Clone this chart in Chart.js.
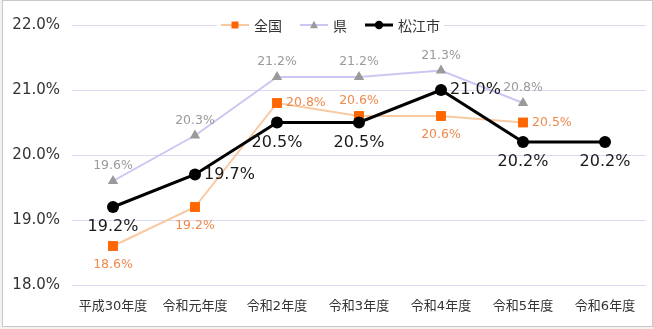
<!DOCTYPE html>
<html>
<head>
<meta charset="utf-8">
<script src="https://cdn.jsdelivr.net/npm/chart.js@4/dist/chart.umd.min.js"></script>
<style>
  html, body { margin: 0; padding: 0; width: 653px; height: 329px; overflow: hidden; background: #f2f3ee; }
  #frame { position: absolute; left: 2px; top: 0; width: 649px; height: 325px; border: 1px solid #c9c9c9; background: #fff; }
  #wrap { position: absolute; left: 0; top: 0; width: 653px; height: 329px; }
</style>
</head>
<body>
<div id="frame"></div>
<div id="wrap"><canvas id="c" width="653" height="329"></canvas></div>
<script>
// Fiscal years on the horizontal axis
const categories = ['平成30年度', '令和元年度', '令和2年度', '令和3年度', '令和4年度', '令和5年度', '令和6年度'];

// Rates (%) per series
const national   = [18.6, 19.2, 20.8, 20.6, 20.6, 20.5, null];
const prefecture = [19.6, 20.3, 21.2, 21.2, 21.3, 20.8, null];
const matsue     = [19.2, 19.7, 20.5, 20.5, 21.0, 20.2, 20.2];

// Axis range and tick step
const yMin = 18;
const yMax = 22;
const yStep = 1;

const seriesNames = ['全国', '県', '松江市'];

// Where each value label sits relative to its point
const nationalLabelPos   = ['below', 'below', 'right', 'above', 'below', 'right', null];
const prefectureLabelPos = ['above', 'above', 'above', 'above', 'above', 'above', null];
const matsueLabelPos     = ['below', 'right', 'below', 'below', 'right', 'below', 'below'];

const FONT = '"DejaVu Sans", "Noto Sans CJK JP", sans-serif';
const CJK_FONT = '"Noto Sans CJK JP", sans-serif';

const styles = [
  { line: '#f9c9a2', marker: '#ff6600', shape: 'rect',     labelColor: '#ef8a4c', labelSize: 12.5, labelPos: nationalLabelPos },
  { line: '#cac7f3', marker: '#9a9a9a', shape: 'triangle', labelColor: '#9a9a9a', labelSize: 12.5, labelPos: prefectureLabelPos },
  { line: '#000000', marker: '#000000', shape: 'circle',   labelColor: '#1a1a1a', labelSize: 16,   labelPos: matsueLabelPos }
];

// Value labels next to each point
const valueLabels = {
  id: 'valueLabels',
  afterDatasetsDraw(chart) {
    const ctx = chart.ctx;
    chart.data.datasets.forEach((ds, di) => {
      const st = styles[di];
      const meta = chart.getDatasetMeta(di);
      ctx.save();
      ctx.font = st.labelSize + 'px ' + FONT;
      ctx.fillStyle = st.labelColor;
      meta.data.forEach((pt, i) => {
        const v = ds.data[i];
        const pos = st.labelPos[i];
        if (v === null || v === undefined || !pos) return;
        const text = v.toFixed(1) + '%';
        let x = pt.x, y = pt.y;
        if (pos === 'above') {
          ctx.textAlign = 'center'; ctx.textBaseline = 'middle';
          y -= 15;
        } else if (pos === 'below') {
          ctx.textAlign = 'center'; ctx.textBaseline = 'middle';
          y += st.labelSize > 14 ? 20 : 19;
        } else {
          ctx.textAlign = 'left'; ctx.textBaseline = 'middle';
          x += 9;
        }
        ctx.fillText(text, x, y);
      });
      ctx.restore();
    });
  }
};

function drawMarker(ctx, shape, x, y, r, color) {
  ctx.fillStyle = color;
  ctx.beginPath();
  if (shape === 'rect') {
    ctx.rect(x - r, y - r, 2 * r, 2 * r);
  } else if (shape === 'triangle') {
    ctx.moveTo(x, y - r);
    ctx.lineTo(x + r * 0.95, y + r * 0.75);
    ctx.lineTo(x - r * 0.95, y + r * 0.75);
    ctx.closePath();
  } else {
    ctx.arc(x, y, r, 0, Math.PI * 2);
  }
  ctx.fill();
}

// Legend laid over the top gridline, with line + marker icons
const lineLegend = {
  id: 'lineLegend',
  afterDraw(chart) {
    const ctx = chart.ctx;
    const iconW = 28, gap = 5, itemGap = 18;
    ctx.save();
    ctx.font = '14px ' + CJK_FONT;
    const widths = seriesNames.map(n => iconW + gap + ctx.measureText(n).width);
    const total = widths.reduce((a, b) => a + b, 0) + itemGap * (seriesNames.length - 1);
    const cx = chart.width / 2 + 4;
    const y = chart.chartArea.top;
    let x = cx - total / 2;
    ctx.fillStyle = '#ffffff';
    ctx.fillRect(x - 4, y - 10, total + 8, 20);
    seriesNames.forEach((name, i) => {
      const st = styles[i];
      ctx.strokeStyle = st.line;
      ctx.lineWidth = i === 2 ? 3 : 2;
      ctx.beginPath();
      ctx.moveTo(x, y);
      ctx.lineTo(x + iconW, y);
      ctx.stroke();
      drawMarker(ctx, st.shape, x + iconW / 2, y, st.shape === 'rect' ? 3.5 : 4.2, st.marker);
      ctx.fillStyle = '#333333';
      ctx.textAlign = 'left';
      ctx.textBaseline = 'middle';
      ctx.fillText(name, x + iconW + gap, y + 1);
      x += widths[i] + itemGap;
    });
    ctx.restore();
  }
};

new Chart(document.getElementById('c'), {
  type: 'line',
  data: {
    labels: categories,
    datasets: [
      {
        label: seriesNames[0], data: national, order: 2,
        borderColor: styles[0].line, borderWidth: 2,
        pointStyle: 'rect', pointRadius: 7, pointBorderWidth: 0,
        pointBackgroundColor: styles[0].marker, pointBorderColor: styles[0].marker
      },
      {
        label: seriesNames[1], data: prefecture, order: 1,
        borderColor: styles[1].line, borderWidth: 2,
        pointStyle: 'triangle', pointRadius: 6, pointBorderWidth: 0,
        pointBackgroundColor: styles[1].marker, pointBorderColor: styles[1].marker
      },
      {
        label: seriesNames[2], data: matsue, order: 0,
        borderColor: styles[2].line, borderWidth: 3,
        pointStyle: 'circle', pointRadius: 6, pointBorderWidth: 0,
        pointBackgroundColor: styles[2].marker, pointBorderColor: styles[2].marker
      }
    ]
  },
  options: {
    responsive: false,
    animation: false,
    devicePixelRatio: 1,
    layout: { padding: { top: 25, right: 1, left: 0, bottom: 0 } },
    plugins: { legend: { display: false }, tooltip: { enabled: false } },
    scales: {
      x: {
        offset: true,
        grid: { display: false, drawTicks: false, offset: true },
        border: { display: false },
        ticks: { color: '#333333', font: { size: 13, family: FONT }, padding: 14, maxRotation: 0, autoSkip: false },
        afterFit(s) { s.height = 44; }
      },
      y: {
        min: yMin, max: yMax,
        grid: { color: '#dadaf0', lineWidth: 1, drawTicks: false },
        border: { display: false },
        ticks: {
          stepSize: yStep, color: '#333333', padding: 12,
          font: { size: 15, family: FONT },
          callback: v => v.toFixed(1) + '%'
        },
        afterFit(s) { s.width = 72; }
      }
    }
  },
  plugins: [valueLabels, lineLegend]
});
</script>
</body>
</html>
